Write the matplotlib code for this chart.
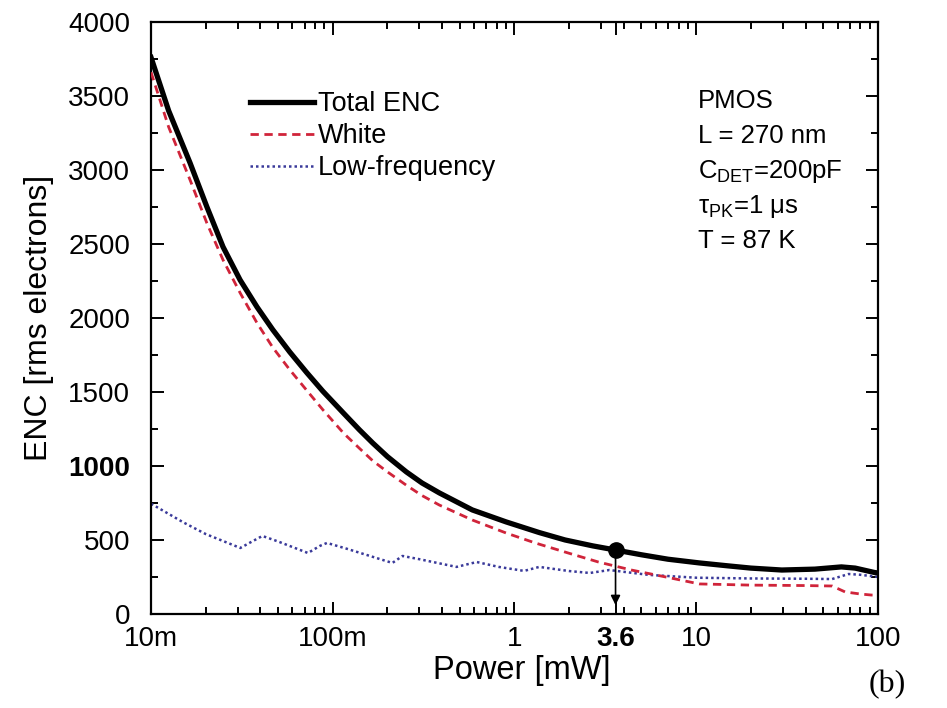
import numpy as np
import matplotlib
matplotlib.use("Agg")
import matplotlib.pyplot as plt
from matplotlib.ticker import FixedLocator, MultipleLocator, LogLocator, NullFormatter

plt.rcParams['font.family'] = ['Liberation Sans', 'DejaVu Sans']
plt.rcParams['mathtext.fontset'] = 'custom'
plt.rcParams['mathtext.rm'] = 'Liberation Sans'
plt.rcParams['mathtext.it'] = 'Liberation Sans:italic'

# power [mW] and ENC [rms electrons]
p_tot = [0.01, 0.0125, 0.0164, 0.0203, 0.0249, 0.0309, 0.0383, 0.0468, 0.058, 0.072,
         0.0882, 0.115, 0.14, 0.166, 0.2, 0.254, 0.31, 0.386, 0.586, 0.9, 1.37, 1.9,
         2.7, 3.6, 5, 7, 10.4, 15, 20, 29.6, 45, 63, 75, 96, 100]
enc_total = [3760, 3400, 3047, 2750, 2480, 2257, 2074, 1920, 1770, 1630,
             1505, 1355, 1245, 1155, 1063, 960, 885, 818, 703, 622, 550, 500,
             460, 432, 400, 370, 345, 325, 310, 297, 303, 318, 310, 280, 277]

p_white = [0.01, 0.0125, 0.0164, 0.0203, 0.0249, 0.0309, 0.0383, 0.0468, 0.058, 0.072,
           0.0882, 0.115, 0.14, 0.166, 0.2, 0.254, 0.31, 0.386, 0.586, 0.9, 1.3, 2,
           2.9, 4.4, 6.8, 10.4, 20, 40, 56, 66, 80, 92, 100]
enc_white = [3660, 3290, 2932, 2640, 2392, 2170, 1966, 1800, 1650, 1510,
             1380, 1220, 1120, 1035, 960, 870, 800, 736, 635, 547, 480, 410,
             351, 297, 250, 203, 195, 192, 189, 149, 135, 128, 128]

p_lf = [0.01, 0.015, 0.02, 0.031, 0.036, 0.041, 0.05, 0.073, 0.085, 0.093, 0.12,
        0.2, 0.213, 0.242, 0.3, 0.48, 0.62, 0.82, 1.13, 1.37, 2, 2.6, 3.33, 4.3,
        5.5, 10, 20, 40, 56, 69, 80, 100]
enc_lf = [745, 620, 540, 446, 490, 527, 490, 412, 460, 480, 440,
          355, 345, 392, 370, 318, 351, 318, 291, 318, 290, 277, 297, 280,
          264, 245, 240, 238, 236, 270, 265, 250]

opt_p = 3.6
opt_enc = 432

xticks = [0.01, 0.1, 1, 3.6, 10, 100]
xticklabels = ['10m', '100m', '1', '3.6', '10', '100']
yticks = [0, 500, 1000, 1500, 2000, 2500, 3000, 3500, 4000]

fig = plt.figure(figsize=(9.47, 7.08), dpi=100)
ax = fig.add_axes([0.1595, 0.1328, 0.7675, 0.8362])

ax.plot(p_tot, enc_total, color='black', lw=3.8, label='Total ENC', zorder=3,
        solid_joinstyle='round')
ax.plot(p_white, enc_white, color='#d0243a', lw=2.0, ls=(0, (3, 2)), label='White', zorder=4)
ax.plot(p_lf, enc_lf, color='#3a3a9a', lw=1.8, ls=(0, (1, 1.2)), label='Low-frequency', zorder=2)

ax.plot([opt_p], [opt_enc], 'o', color='black', ms=11, zorder=5)
ax.annotate('', xy=(opt_p, 60), xytext=(opt_p, opt_enc),
            arrowprops=dict(arrowstyle='-|>', color='black', lw=1.2,
                            mutation_scale=14, shrinkA=0, shrinkB=0))

ax.set_xscale('log')
ax.set_xlim(0.01, 100)
ax.set_ylim(0, 4000)

ax.xaxis.set_major_locator(FixedLocator(xticks))
ax.set_xticklabels(xticklabels)
ax.xaxis.set_minor_locator(LogLocator(base=10, subs=np.arange(2, 10)))
ax.xaxis.set_minor_formatter(NullFormatter())
ax.set_yticks(yticks)
ax.yaxis.set_minor_locator(MultipleLocator(250))

ax.tick_params(which='both', direction='in', top=True, right=True, labelsize=20, width=1.4)
ax.tick_params(which='major', length=9)
ax.tick_params(which='minor', length=5)
ax.tick_params(axis='x', which='major', pad=9)
ax.tick_params(axis='y', which='major', pad=15)
for lab in ax.get_xticklabels():
    if lab.get_text() == '3.6':
        lab.set_fontweight('bold')
for lab in ax.get_yticklabels():
    if lab.get_text() == '1000':
        lab.set_fontweight('bold')
for s in ax.spines.values():
    s.set_linewidth(1.6)

ax.set_xlabel('Power [mW]', fontsize=23.5)
ax.xaxis.set_label_coords(0.51, -0.07)
ax.set_ylabel('ENC [rms electrons]', fontsize=23, labelpad=10)

leg = ax.legend(loc='upper left', bbox_to_anchor=(0.136, 0.883), frameon=False,
                fontsize=19.5, handlelength=2.35, handletextpad=0.15, labelspacing=0.22,
                borderaxespad=0, borderpad=0)

info = ['PMOS', 'L = 270 nm', r'C$_{\rm DET}$=200pF', r'τ$_{\rm PK}$=1 μs', 'T = 87 K']
for i, t in enumerate(info):
    ax.text(0.752, 0.866 - i * 0.0591, t, transform=ax.transAxes, fontsize=18.5,
            va='center', ha='left')

fig.text(0.957, 0.012, '(b)', fontsize=23, family='Liberation Serif', ha='right', va='bottom')

fig.savefig('out.png', dpi=100)
